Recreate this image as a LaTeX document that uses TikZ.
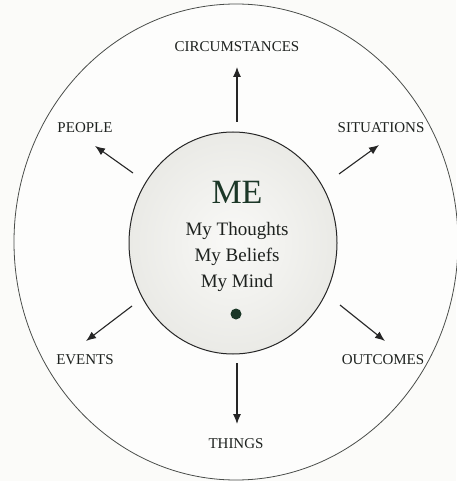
\documentclass[tikz,border=0pt]{standalone}
\usepackage{fontspec}
\setmainfont{Liberation Serif}
\usetikzlibrary{positioning,arrows.meta,shapes.geometric}
\definecolor{paper}{HTML}{FBFBF9}
\definecolor{inkgray}{HTML}{1E221F}
\definecolor{deepgreen}{HTML}{1B3727}
\definecolor{rimgray}{HTML}{4A4D4A}
\definecolor{coregray}{HTML}{EAEAE6}
\definecolor{corelight}{HTML}{F9F9F7}

\begin{document}
\begin{tikzpicture}[
    x=1pt, y=-1pt,
    >=Latex,
    outcome/.style={
        font=\fontsize{15}{17}\selectfont, text=inkgray, inner sep=1pt
    },
    selfline/.style={
        font=\fontsize{19}{21}\selectfont, text=inkgray, inner sep=1pt, anchor=base
    },
    push/.style={-{Latex[length=10pt, width=8pt]}, line width=1.1pt, color=black!85},
]

% === Canvas ===
\useasboundingbox[fill=paper] (0,0) rectangle (456,481);

% === Outer ring ===
\draw[rimgray, line width=0.8pt, fill=white!50!paper]
    (236,242) ellipse [x radius=222pt, y radius=238pt];

% === Inner self ===
\node[ellipse, draw=black!85, line width=1pt, inner sep=0pt,
      minimum width=208pt, minimum height=222pt,
      inner color=corelight, outer color=coregray] (self) at (233,243) {};

\node[font=\fontsize{34}{36}\selectfont, text=deepgreen, inner sep=0pt, anchor=base] (me) at (237,203) {ME};
\node[selfline] (thoughts) at (237,235) {My Thoughts};
\node[selfline] (beliefs) at (237,261) {My Beliefs};
\node[selfline] (mind) at (237,287) {My Mind};
\node[circle, fill=deepgreen, minimum size=11pt, inner sep=0pt] (dot) at (236,314) {};

% === Outcome labels ===
\node[outcome] (circ) at (237,47) {CIRCUMSTANCES};
\node[outcome] (people) at (85,128) {PEOPLE};
\node[outcome] (situ) at (381,128) {SITUATIONS};
\node[outcome] (events) at (85,360) {EVENTS};
\node[outcome] (outc) at (383,360) {OUTCOMES};
\node[outcome] (things) at (236,444) {THINGS};

% === Arrow ends ===
\coordinate (upA) at (237,122);   \coordinate (upB) at (237,67);
\coordinate (plA) at (133,173);   \coordinate (plB) at (95,146);
\coordinate (stA) at (339,174);   \coordinate (stB) at (379,145);
\coordinate (evA) at (132,306);   \coordinate (evB) at (86,341);
\coordinate (ocA) at (340,305);   \coordinate (ocB) at (385,341);
\coordinate (dnA) at (237,363);   \coordinate (dnB) at (237,424);

\draw[push] (upA) -- (upB);
\draw[push] (plA) -- (plB);
\draw[push] (stA) -- (stB);
\draw[push] (evA) -- (evB);
\draw[push] (ocA) -- (ocB);
\draw[push] (dnA) -- (dnB);

\end{tikzpicture}
\end{document}
